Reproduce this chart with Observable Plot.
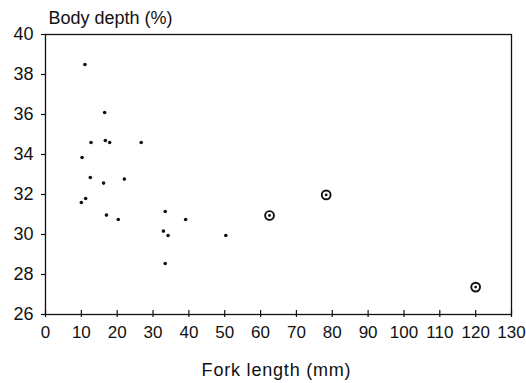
<!DOCTYPE html>
<html>
<head>
<meta charset="utf-8">
<script src="https://cdn.jsdelivr.net/npm/d3@7"></script>
<script src="https://cdn.jsdelivr.net/npm/@observablehq/plot@0.6"></script>
<style>
  html, body { margin: 0; padding: 0; background: #fff; }
  #chart svg { display: block; }
  .xtitle text { letter-spacing: 0.8px; }
</style>
</head>
<body>
<div id="chart"></div>
<script>
// Data
const smallX = [11.0, 16.5, 12.7, 16.7, 17.9, 26.7, 10.2, 12.5, 16.2, 22.0, 10.0, 11.2, 17.0, 20.3, 33.4, 39.1, 32.9, 34.2, 50.3, 33.4];
const smallY = [38.5, 36.1, 34.6, 34.7, 34.6, 34.6, 33.85, 32.85, 32.57, 32.77, 31.6, 31.8, 30.97, 30.75, 31.15, 30.75, 30.17, 29.95, 29.95, 28.55];
const ringX = [62.5, 78.3, 120];
const ringY = [30.95, 31.98, 27.37];
const xTicks = [0, 10, 20, 30, 40, 50, 60, 70, 80, 90, 100, 110, 120, 130];
const yTicks = [26, 28, 30, 32, 34, 36, 38, 40];
const yTitle = "Body depth (%)";
const xTitle = "Fork length (mm)";

const small = smallX.map((x, i) => ({x, y: smallY[i]}));
const rings = ringX.map((x, i) => ({x, y: ringY[i]}));
const ink = "#111";

const chart = Plot.plot({
  width: 526,
  height: 383,
  marginLeft: 45,
  marginRight: 15,
  marginTop: 34,
  marginBottom: 69,
  style: {fontFamily: "'Liberation Sans', Arial, sans-serif", color: ink, background: "#fff"},
  x: {domain: [0, 130]},
  y: {domain: [26, 40]},
  marks: [
    Plot.frame({stroke: ink, strokeWidth: 1.3}),
    Plot.axisY({ticks: yTicks, tickSize: 4, tickPadding: 8, fontSize: 18, label: null, stroke: ink, strokeWidth: 1.2}),
    Plot.axisX({ticks: xTicks, tickSize: 7, dy: -4, tickPadding: 8, fontSize: 17, label: null, stroke: ink, strokeWidth: 1.2}),
    Plot.dot(small, {x: "x", y: "y", r: 1.8, fill: ink, stroke: "none"}),
    Plot.dot(rings, {x: "x", y: "y", r: 4.4, fill: "none", stroke: ink, strokeWidth: 1.9}),
    Plot.dot(rings, {x: "x", y: "y", r: 1.4, fill: ink, stroke: "none"}),
    Plot.text([yTitle], {frameAnchor: "top-left", textAnchor: "start", lineAnchor: "bottom", dx: 3, dy: -11, fontSize: 18, fill: ink}),
    Plot.text([xTitle], {frameAnchor: "bottom", lineAnchor: "bottom", dy: 61, dx: -2, fontSize: 18, fill: ink, className: "xtitle"})
  ]
});
document.getElementById("chart").append(chart);
</script>
</body>
</html>
